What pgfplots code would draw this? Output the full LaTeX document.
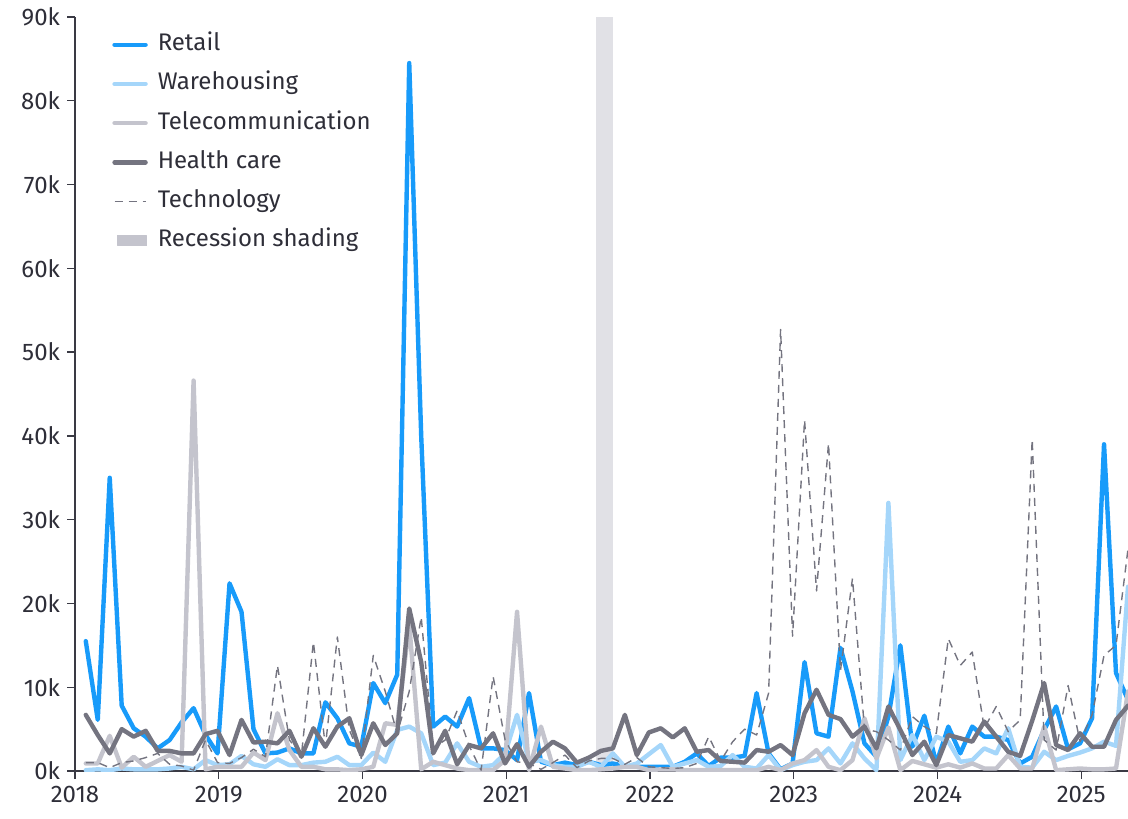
\documentclass[border=0pt]{standalone}
\usepackage{fontspec}
\setmainfont{Fira Sans}
\usepackage{pgfplots}
\usepackage{pgfplotstable}
\pgfplotsset{compat=1.18}
\definecolor{retailc}{HTML}{189BFA}
\definecolor{warec}{HTML}{A5D6FA}
\definecolor{telec}{HTML}{C4C4CD}
\definecolor{healthc}{HTML}{747480}
\definecolor{techc}{HTML}{747480}
\definecolor{shadec}{HTML}{E1E1E6}
\definecolor{shadeleg}{HTML}{C4C4CD}
\definecolor{axisc}{HTML}{3A3A44}
\definecolor{textc}{HTML}{2E2E38}

\pgfplotstableread{
i retail ware tele health tech
1 15.5 0.1 0.9 6.7 1.0
2 6.1 0.2 0.9 4.3 1.0
3 35.0 0.1 4.2 2.1 0.4
4 7.8 0.3 0.4 5.0 1.0
5 5.1 0.2 1.7 4.1 1.2
6 4.1 0.2 0.5 4.8 1.6
7 2.7 0.2 1.2 2.4 2.1
8 3.7 0.3 1.9 2.4 0.8
9 5.8 0.5 1.1 2.1 0.6
10 7.5 0.2 46.6 2.1 0.1
11 4.3 1.3 0.2 4.4 3.7
12 2.1 0.7 0.5 4.8 1.0
13 22.4 0.8 0.5 1.9 0.9
14 19.0 1.8 0.5 6.1 1.6
15 5.0 0.8 2.2 3.4 2.6
16 2.1 0.5 1.3 3.5 1.7
17 2.2 1.4 6.9 3.3 12.6
18 2.7 0.7 2.5 4.8 3.7
19 2.1 0.7 0.5 1.7 1.9
20 2.1 1.0 0.5 5.1 15.4
21 8.2 1.1 0.2 2.9 2.9
22 6.3 1.7 0.2 5.3 16.0
23 3.3 0.7 0.1 6.3 4.9
24 2.9 0.7 0.2 1.9 1.5
25 10.5 2.2 0.5 5.7 13.8
26 8.1 1.1 5.7 3.1 9.5
27 11.5 4.9 5.5 4.5 4.5
28 84.5 5.3 17.5 19.4 9.5
29 40.0 4.5 0.2 13.0 18.4
30 5.3 0.7 1.1 2.1 2.7
31 6.5 1.0 0.7 4.8 3.7
32 5.3 3.3 0.3 0.8 7.2
33 8.7 1.1 0.1 3.1 3.0
34 2.7 0.5 0.1 2.7 0.1
35 2.7 0.7 0.1 4.5 11.3
36 2.5 2.1 1.3 0.9 3.7
37 1.3 6.7 19.0 3.2 1.1
38 9.3 1.1 0.1 0.5 0.9
39 1.1 1.3 5.3 2.3 0.2
40 0.7 0.7 0.5 3.5 1.0
41 1.0 0.5 0.3 2.7 1.9
42 0.7 0.5 0.1 1.0 0.4
43 1.1 1.1 0.1 1.6 1.2
44 0.7 0.5 0.2 2.4 1.5
45 0.9 2.1 0.3 2.7 1.5
46 0.6 0.5 0.5 6.7 0.8
47 0.5 0.9 0.5 1.9 1.6
48 0.5 2.0 0.1 4.6 0.5
49 0.5 3.1 0.2 5.1 0.4
50 0.5 0.5 0.2 4.0 0.3
51 1.1 0.9 0.1 5.1 0.4
52 2.1 1.3 0.1 2.3 0.9
53 0.6 0.5 0.1 2.5 4.1
54 1.6 0.6 0.1 1.2 1.2
55 1.6 1.9 0.1 1.1 3.5
56 1.8 0.5 0.1 1.0 5.0
57 9.3 0.3 0.1 2.5 4.3
58 2.1 1.9 0.5 2.3 9.3
59 0.2 0.1 0.1 3.1 52.7
60 0.9 0.7 0.9 1.9 16.1
61 13.0 1.1 1.3 6.9 41.9
62 4.5 1.3 2.5 9.7 21.5
63 4.1 2.7 0.5 6.7 39.1
64 14.7 0.9 0.1 6.2 12.0
65 9.5 3.3 1.3 4.1 23.0
66 3.3 1.5 6.3 5.3 5.0
67 1.7 0.1 1.5 2.7 4.7
68 6.5 32.0 5.2 7.7 3.7
69 15.0 1.3 0.1 4.9 2.5
70 2.9 4.3 1.2 1.9 6.5
71 6.6 1.3 0.8 3.5 5.3
72 0.9 4.1 0.4 0.7 4.5
73 5.3 3.5 0.8 4.3 15.8
74 2.1 1.1 0.4 3.9 12.6
75 5.3 1.3 0.9 3.5 14.2
76 4.1 2.7 0.3 5.9 5.1
77 4.1 2.1 0.3 4.1 7.7
78 3.7 5.1 1.9 2.3 4.7
79 0.9 0.5 0.3 1.8 6.1
80 1.7 0.4 0.3 6.0 39.6
81 4.9 2.3 5.3 10.5 3.7
82 7.7 1.3 0.1 3.1 2.5
83 2.6 1.8 0.2 2.5 10.2
84 3.3 2.2 0.3 4.5 3.5
85 6.3 2.7 0.2 2.9 6.7
86 39.0 3.5 0.2 2.9 13.8
87 11.7 3.0 0.3 6.1 15.0
88 8.5 22.0 9.5 7.8 26.5
}\data

\begin{document}
\begin{tikzpicture}[x=1pt,y=1pt]
\begin{axis}[
  at={(0,0)}, anchor=south west,
  scale only axis, width=526.5pt, height=377pt,
  xmin=2018, xmax=2025.325, ymin=0, ymax=90,
  axis x line=bottom, axis y line=left,
  axis line style={-, draw=axisc, line width=0.7pt},
  tick align=outside, major tick length=4pt,
  tick style={draw=axisc, line width=0.7pt},
  xtick={2018,2019,2020,2021,2022,2023,2024,2025},
  xticklabels={2018,2019,2020,2021,2022,2023,2024,2025},
  ytick={0,10,20,30,40,50,60,70,80,90},
  yticklabels={0k,10k,20k,30k,40k,50k,60k,70k,80k,90k},
  minor tick num=0,
  tick label style={font=\fontsize{12}{14}\selectfont, text=textc},
  legend cell align=left,
  legend style={at={(0.0351,0.985)}, anchor=north west, draw=none, fill=none,
    inner sep=0pt, row sep=3.6pt,
    font=\fontsize{12}{14}\selectfont, text=textc,
    nodes={text height=9pt, text depth=3pt, inner ysep=2pt}},
  /tikz/every odd column/.append style={column sep=3pt},
  legend image code/.code={\draw[#1] (0pt,0pt) -- (15.5pt,0pt);},
  every axis plot/.append style={line join=round, line cap=round},
]
\addplot[fill=shadec, draw=none, forget plot] coordinates {(2021.625,0) (2021.625,90) (2021.74,90) (2021.74,0)} -- cycle;
\addplot[retailc, line width=2.2pt] table[x expr=2018+(\thisrow{i}-0.1)/12, y=retail] {\data};
\addlegendentry{Retail}
\addplot[warec, line width=2.2pt] table[x expr=2018+(\thisrow{i}-0.1)/12, y=ware] {\data};
\addlegendentry{Warehousing}
\addplot[telec, line width=2.2pt] table[x expr=2018+(\thisrow{i}-0.1)/12, y=tele] {\data};
\addlegendentry{Telecommunication}
\addplot[healthc, line width=2.2pt] table[x expr=2018+(\thisrow{i}-0.1)/12, y=health] {\data};
\addlegendentry{Health care}
\addplot[techc, line width=0.7pt, line cap=butt, dash pattern=on 4pt off 3pt] table[x expr=2018+(\thisrow{i}-0.1)/12, y=tech] {\data};
\addlegendentry{Technology}
\addlegendimage{legend image code/.code={\fill[shadeleg] (1.5pt,-2.5pt) rectangle (16pt,2.5pt);}}
\addlegendentry{Recession shading}
\end{axis}
\pgfresetboundingbox
\path[use as bounding box] (-37.5,-23.5) rectangle (526.5,385.5);
\end{tikzpicture}
\end{document}
